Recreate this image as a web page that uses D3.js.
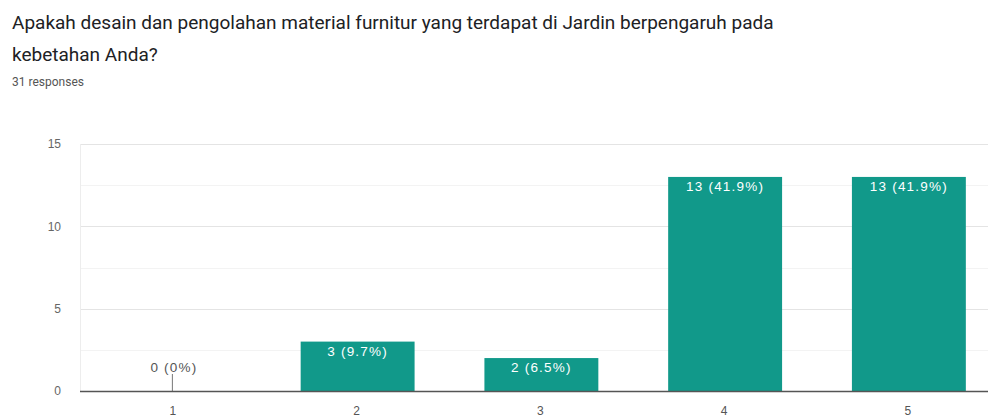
<!DOCTYPE html>
<html>
<head>
<meta charset="utf-8">
<script src="https://cdn.jsdelivr.net/npm/d3@7"></script>
<style>
  html, body { margin: 0; padding: 0; background: #fff; }
  svg { display: block; font-family: Roboto, "Noto Sans", Arial, sans-serif; }
</style>
</head>
<body>
<svg id="chart" width="990" height="419"></svg>
<script>
// Survey answers: rating scale 1-5 with response counts
const categories = ["1", "2", "3", "4", "5"];
const counts = [0, 3, 2, 13, 13];
const percentLabels = ["0%", "9.7%", "6.5%", "41.9%", "41.9%"];
const yTicks = [0, 5, 10, 15];
const yMinorTicks = [2.5, 7.5, 12.5];

const titleLines = [
  "Apakah desain dan pengolahan material furnitur yang terdapat di Jardin berpengaruh pada",
  "kebetahan Anda?"
];
const subtitle = "31 responses";

const chartFont = "'Liberation Sans', Arial, sans-serif";
const svg = d3.select("#chart");

// Heading
svg.selectAll("text.title")
  .data(titleLines)
  .join("text")
  .attr("class", "title")
  .attr("x", 12)
  .attr("y", (d, i) => 29 + i * 32)
  .attr("fill", "#202124")
  .attr("font-size", 19)
  .text(d => d);

svg.append("text")
  .attr("x", 12)
  .attr("y", 86)
  .attr("fill", "#555")
  .attr("font-size", 12)
  .text(subtitle);

// Plot area
const plotLeft = 80, plotRight = 988;
const y = d3.scaleLinear().domain([0, 15]).range([391, 144]);
const x = d3.scaleBand()
  .domain(categories)
  .range([82, 82 + 5 * 183.75])
  .paddingInner(0.38)
  .paddingOuter(0.19);

// Minor gridlines
svg.append("g")
  .selectAll("line")
  .data(yMinorTicks)
  .join("line")
  .attr("x1", plotLeft).attr("x2", plotRight)
  .attr("y1", d => Math.round(y(d)) + 0.5).attr("y2", d => Math.round(y(d)) + 0.5)
  .attr("stroke", "#f3f3f3");

// Major gridlines
svg.append("g")
  .selectAll("line")
  .data(yTicks.filter(d => d > 0))
  .join("line")
  .attr("x1", plotLeft).attr("x2", plotRight)
  .attr("y1", d => Math.round(y(d)) + 0.5).attr("y2", d => Math.round(y(d)) + 0.5)
  .attr("stroke", "#e4e4e4");

// Left edge of plot
svg.append("line")
  .attr("x1", plotLeft + 0.5).attr("x2", plotLeft + 0.5)
  .attr("y1", y(15)).attr("y2", y(0))
  .attr("stroke", "#ededed");

// Y axis labels
const yAxis = d3.axisLeft(y).tickValues(yTicks).tickSize(0).tickPadding(0);
const gy = svg.append("g").attr("transform", "translate(61,0)").call(yAxis);
gy.select(".domain").remove();
gy.selectAll("text").attr("fill", "#666").attr("font-size", 12)
  .attr("font-family", chartFont);

// Bars
svg.append("g")
  .selectAll("rect")
  .data(counts)
  .join("rect")
  .attr("x", (d, i) => x(categories[i]))
  .attr("width", x.bandwidth())
  .attr("y", d => y(d))
  .attr("height", d => y(0) - y(d))
  .attr("fill", "#11998a");

// Value labels
svg.append("g")
  .selectAll("text")
  .data(counts)
  .join("text")
  .attr("x", (d, i) => x(categories[i]) + x.bandwidth() / 2)
  .attr("y", d => d > 0 ? y(d) + 14 : y(0) - 19)
  .attr("text-anchor", "middle")
  .attr("font-family", chartFont)
  .attr("font-size", 13.5)
  .attr("letter-spacing", 1.2)
  .attr("fill", d => d > 0 ? "#ffffff" : "#555")
  .text((d, i) => `${d} (${percentLabels[i]})`);

// Leader line for empty category
svg.append("g")
  .selectAll("line")
  .data(counts.map((d, i) => ({ d, i })).filter(o => o.d === 0))
  .join("line")
  .attr("x1", o => x(categories[o.i]) + x.bandwidth() / 2 - 1.5)
  .attr("x2", o => x(categories[o.i]) + x.bandwidth() / 2 - 1.5)
  .attr("y1", y(0) - 17).attr("y2", y(0))
  .attr("stroke", "#777");

// Baseline
svg.append("line")
  .attr("x1", plotLeft).attr("x2", plotRight)
  .attr("y1", y(0) + 0.5).attr("y2", y(0) + 0.5)
  .attr("stroke", "#555").attr("stroke-width", 1.5);

// X axis labels
const xAxis = d3.axisBottom(x).tickSize(0).tickPadding(0);
const gx = svg.append("g").attr("transform", `translate(-1,${y(0) + 15})`).call(xAxis);
gx.select(".domain").remove();
gx.selectAll("text").attr("fill", "#555").attr("font-size", 12)
  .attr("font-family", chartFont);
</script>
</body>
</html>
